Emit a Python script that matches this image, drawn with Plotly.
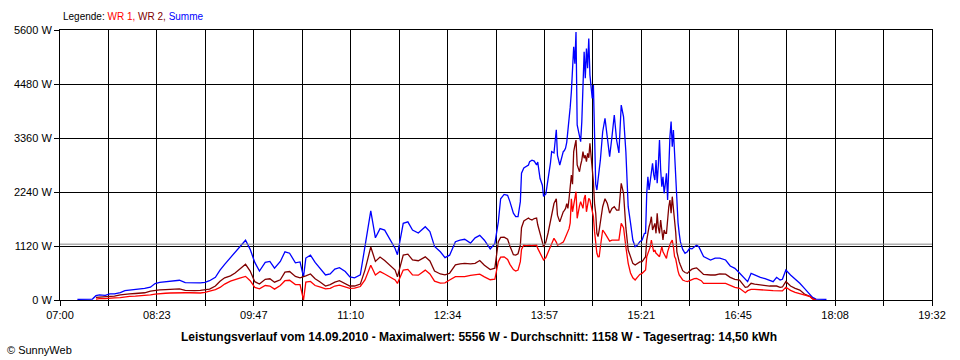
import plotly.graph_objects as go

# ---------------- data ----------------
TIMES = [
    "07:15", "07:22", "07:28", "07:31", "07:34", "07:39", "07:43", "07:47", "07:52", "07:56",
    "08:00", "08:05", "08:09", "08:13", "08:18", "08:22", "08:26", "08:31", "08:35", "08:39",
    "08:43", "08:48", "08:52", "08:56", "09:01", "09:05", "09:09", "09:14", "09:18", "09:22",
    "09:27", "09:31", "09:35", "09:40", "09:44", "09:48", "09:52", "09:57", "10:01", "10:05",
    "10:10", "10:14", "10:18", "10:23", "10:27", "10:30", "10:32", "10:36", "10:40", "10:44",
    "10:49", "10:53", "10:57", "11:01", "11:06", "11:10", "11:14", "11:19", "11:23", "11:26",
    "11:28", "11:32", "11:36", "11:40", "11:45", "11:49", "11:51", "11:56", "12:00", "12:04",
    "12:09", "12:15", "12:19", "12:23", "12:28", "12:32", "12:36", "12:41", "12:45", "12:49",
    "12:54", "12:58", "13:02", "13:06", "13:11", "13:15", "13:18", "13:20", "13:23", "13:26",
    "13:28", "13:31", "13:33", "13:35", "13:37", "13:38", "13:40", "13:42", "13:44", "13:45",
    "13:47", "13:49", "13:51", "13:52", "13:54", "13:56", "13:57", "13:59", "14:01", "14:03",
    "14:04", "14:06", "14:08", "14:09", "14:11", "14:13",
    "14:14", "14:15", "14:16", "14:17", "14:18", "14:19", "14:20", "14:21", "14:22", "14:23",
    "14:24", "14:25", "14:26", "14:27", "14:28", "14:29", "14:30", "14:31", "14:32", "14:33",
    "14:34", "14:35", "14:36", "14:37", "14:38", "14:39", "14:40", "14:41", "14:42", "14:43",
    "14:44", "14:45", "14:46", "14:48", "14:50", "14:52", "14:54", "14:56", "14:58", "15:00",
    "15:02", "15:04", "15:06", "15:08", "15:10", "15:12", "15:14", "15:16", "15:18", "15:20",
    "15:22", "15:24", "15:25", "15:26", "15:27", "15:28", "15:29", "15:30", "15:31", "15:32",
    "15:33", "15:34", "15:35", "15:36", "15:37", "15:38", "15:39", "15:40", "15:41", "15:42",
    "15:43", "15:44", "15:45", "15:46", "15:47", "15:48", "15:49", "15:50", "15:51", "15:52",
    "15:53", "15:54", "15:55", "15:57", "15:59", "16:01", "16:03", "16:05", "16:07", "16:09",
    "16:11", "16:13", "16:15", "16:21", "16:25", "16:29", "16:34", "16:38", "16:42", "16:46",
    "16:51", "16:53", "16:56", "16:59", "17:04", "17:08", "17:12", "17:15", "17:18", "17:21",
    "17:23", "17:26", "17:30", "17:34", "17:38", "17:42", "17:47", "17:49", "17:52", "18:01",
]

SUMME = [
    15, 15, 20, 90, 105, 95, 125, 125, 155, 195,
    205, 215, 225, 240, 265, 340, 365, 375, 385, 400,
    410, 360, 355, 350, 355, 365, 400, 470, 620, 740,
    880, 1000, 1110, 1240, 1050, 780, 600, 780, 800, 660,
    800, 1000, 970, 770, 790, 480, 870, 930, 780, 670,
    520, 540, 640, 670, 590, 480, 460, 520, 1100, 1590,
    1850, 1290, 1480, 1450, 1250, 1070, 940, 1590, 1620, 1450,
    1390, 1520, 1420, 1110, 1000, 880, 930, 1210, 1240, 1260,
    1180, 1290, 1340, 1240, 1060, 1170, 1620, 2100, 2190, 2170,
    2040, 1800, 1730, 1730, 2040, 2630, 2740, 2780, 2800, 2870,
    2900, 2880, 2800, 2860, 2520, 2380, 2150, 2200, 2500, 2850,
    3080, 3050, 3530, 3000, 2800, 3000,
    3076, 3100, 3150, 3270, 3480, 3700, 4000, 4320, 4735, 5250,
    4900, 5556, 3630, 3500, 3420, 3283, 3700, 4390, 5150, 4600,
    5218, 4805, 5425, 4666, 4400, 4183, 4460, 3076, 2400, 2281,
    2557, 2700, 2900, 3490, 3768, 3400, 2973, 3386, 3837, 3318,
    3050, 4044, 3800, 3076, 1935, 1600, 1244, 1106, 1140, 1210,
    1244, 1383, 1383, 2213, 2557, 2281, 2450, 2696, 2835, 2600,
    2488, 2904, 2420, 2800, 3318, 2700, 2350, 2557, 2213, 2400,
    2628, 2074, 2900, 3387, 3700, 3180, 3525, 3040, 2350, 1935,
    1600, 1383, 1210, 1050, 968, 1002, 1072, 1060, 1106, 1140,
    1100, 1002, 900, 830, 870, 870, 830, 705, 657, 560,
    415, 380, 553, 519, 470, 442, 415, 380, 470, 415,
    430, 622, 519, 440, 346, 242, 124, 55, 20, 15,
]

WR2 = [
    None, None, None, 55, 60, 65, 75, 80, 105, 120,
    125, 135, 140, 150, 185, 200, 210, 215, 225, 235,
    230, 200, 195, 195, 200, 210, 225, 290, 390, 460,
    500, 560, 640, 740, 600, 380, 330, 430, 440, 370,
    420, 580, 590, 490, 460, 480, 500, 540, 440, 380,
    290, 320, 370, 400, 330, 290, 290, 330, 620, 900,
    1100, 800, 890, 820, 700, 620, 480, 930, 950, 830,
    815, 895, 810, 600, 540, 520, 555, 730, 750, 760,
    750, 760, 820, 720, 630, 660, 1210, 1300, 1305, 1260,
    1120, 940, 930, 960, 1140, 1500, 1640, 1680, 1700, 1680,
    1660, 1690, 1700, 1560, 1400, 1200, 1100, 1200, 1400, 1620,
    1800, 2000, 2100, 1760, 1620, 1800,
    1830, 1860, 1900, 2000, 1900, 2100, 2300, 2590, 2400, 3076,
    3200, 3318, 2800, 2700, 2660, 2800, 2900, 3076, 2940, 3000,
    2870, 3040, 2950, 3250, 3000, 2840, 2455, 2000, 1800, 1383,
    1314, 1450, 1600, 1935, 2100, 2000, 1800, 1900, 1935, 1866,
    1866, 2420, 2213, 1500, 1037, 880, 760, 726, 760, 790,
    795, 880, 898, 1244, 1400, 1520, 1600, 1728, 1452, 1520,
    1590, 1383, 1798, 1500, 1383, 1660, 1500, 1244, 1450, 1383,
    1383, 1700, 1935, 2074, 1798, 2143, 1900, 1728, 1400, 1000,
    850, 790, 725, 608, 570, 553, 600, 640, 657, 667,
    622, 580, 530, 519, 519, 540, 535, 470, 430, 415,
    263, 270, 346, 330, 311, 290, 290, 290, 290, 263,
    270, 381, 290, 242, 207, 124, 69, 28, 0, None,
]

WR1 = [
    None, None, None, 20, 30, 30, 45, 45, 50, 70,
    75, 80, 85, 95, 105, 120, 135, 140, 145, 150,
    155, 150, 150, 145, 145, 160, 180, 215, 260, 330,
    390, 430, 455, 490, 400, 260, 230, 300, 290, 225,
    300, 400, 410, 320, 320, 0, 370, 385, 300, 270,
    230, 240, 290, 310, 270, 240, 245, 280, 415, 620,
    720, 520, 590, 540, 470, 415, 345, 620, 635, 520,
    515, 620, 540, 390, 350, 355, 415, 485, 485, 485,
    510, 525, 535, 480, 420, 430, 795, 890, 895, 840,
    740, 630, 600, 620, 795, 1050, 1140, 1130, 1140, 1140,
    1130, 1140, 1140, 1070, 960, 880, 830, 880, 1000, 1100,
    1200, 1280, 1200, 1140, 1160, 1180,
    1200, 1250, 1300, 1380, 1420, 1480, 1600, 2100, 1830, 2000,
    2100, 2247, 1694, 1850, 1950, 2040, 1950, 1900, 2100, 2178,
    1830, 2000, 2109, 2074, 1950, 1800, 1728, 1418, 1150, 968,
    898, 900, 1100, 1452, 1380, 1300, 1220, 1240, 1244, 1244,
    1244, 1590, 1500, 1100, 760, 560, 460, 415, 484, 530,
    553, 610, 622, 898, 980, 1037, 1100, 1244, 1150, 1000,
    1037, 968, 950, 920, 898, 1000, 1106, 1000, 950, 880,
    864, 1000, 1106, 1150, 1200, 1244, 1100, 900, 850, 690,
    600, 519, 484, 415, 394, 380, 400, 429, 442, 449,
    420, 401, 346, 340, 346, 346, 346, 300, 263, 242,
    152, 194, 221, 221, 207, 207, 200, 195, 195, 187,
    190, 263, 200, 160, 130, 104, 69, 21, 0, None,
]

AVERAGE = 1158
Y_TICKS = [0, 1120, 2240, 3360, 4480, 5600]
X_TICK_LABELS = ["07:00", "08:23", "09:47", "11:10", "12:34",
                 "13:57", "15:21", "16:45", "18:08", "19:32"]

TITLE = ("Leistungsverlauf vom 14.09.2010 - Maximalwert: 5556 W - "
         "Durchschnitt: 1158 W - Tagesertrag: 14,50 kWh")

# ---------------- figure ----------------
def to_min(t):
    h, m = t.split(":")
    return int(h) * 60 + int(m)

xmin = [to_min(t) for t in TIMES]
x_start = to_min(X_TICK_LABELS[0])
x_end = to_min(X_TICK_LABELS[-1])
n_div = 2 * (len(X_TICK_LABELS) - 1)
tickvals = [x_start + i * (x_end - x_start) / n_div for i in range(n_div + 1)]
ticktext = [X_TICK_LABELS[i // 2] if i % 2 == 0 else "" for i in range(n_div + 1)]

FONT = "Liberation Sans, Arial, sans-serif"
fig = go.Figure()
for name, vals, col in [("Summe", SUMME, "#0000FF"),
                        ("WR 2", WR2, "#800000"),
                        ("WR 1", WR1, "#FF0000")]:
    fig.add_trace(go.Scatter(x=xmin, y=vals, mode="lines", name=name,
                             line=dict(color=col, width=1.3),
                             connectgaps=False, hoverinfo="skip"))

fig.add_shape(type="line", xref="paper", x0=0, x1=1, yref="y",
              y0=AVERAGE, y1=AVERAGE, line=dict(color="#888888", width=1),
              layer="above")

fig.update_layout(
    width=960, height=360,
    margin=dict(l=60, r=28, t=30, b=60),
    paper_bgcolor="white", plot_bgcolor="white",
    showlegend=False,
    hovermode=False,
    font=dict(family=FONT, size=11, color="black"),
    xaxis=dict(range=[x_start, x_end], tickmode="array", tickvals=tickvals,
               ticktext=ticktext, showgrid=True, gridcolor="black", gridwidth=1,
               zeroline=False, showline=True, linecolor="black", linewidth=1,
               mirror=True, ticks="outside", ticklen=5, tickcolor="black",
               tickfont=dict(family=FONT, size=11, color="black")),
    yaxis=dict(range=[0, Y_TICKS[-1]], tickmode="array", tickvals=Y_TICKS,
               ticktext=[f"{v} W" for v in Y_TICKS], showgrid=True,
               gridcolor="black", gridwidth=1, zeroline=False, showline=True,
               linecolor="black", linewidth=1, mirror=True, ticks="outside",
               ticklen=5, tickcolor="black",
               tickfont=dict(family=FONT, size=11, color="black")),
    annotations=[
        dict(xref="paper", yref="paper", x=0.001, y=1.049, xanchor="left",
             yanchor="middle", showarrow=False,
             text=("Legende: <span style='color:#FF0000'>WR 1,</span> "
                   "<span style='color:#800000'>WR 2,</span> "
                   "<span style='color:#0000FF'>Summe</span>"),
             font=dict(family=FONT, size=10, color="black")),
        dict(xref="paper", yref="paper", x=0.4805, y=-0.137, xanchor="center",
             yanchor="middle", showarrow=False, text="<b>" + TITLE + "</b>",
             font=dict(family=FONT, size=12, color="black")),
        dict(xref="paper", yref="paper", x=-0.063, y=-0.185, xanchor="left",
             yanchor="middle", showarrow=False, text="© SunnyWeb",
             font=dict(family=FONT, size=11, color="black")),
    ],
)

fig.write_html(
    "out.html",
    config={"displayModeBar": False},
    post_script="document.body.style.margin='0';document.body.style.overflow='hidden';",
)
